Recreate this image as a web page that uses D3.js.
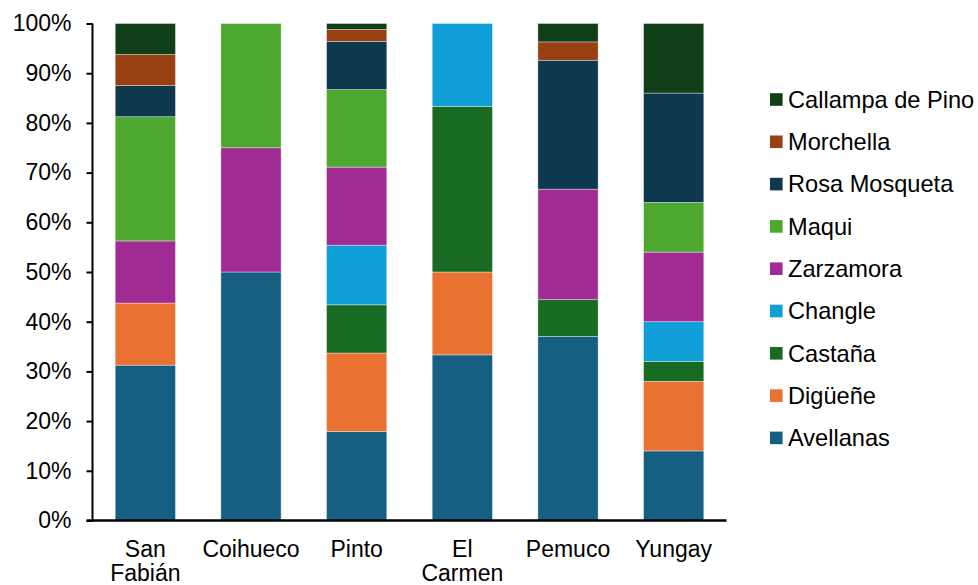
<!DOCTYPE html>
<html>
<head>
<meta charset="utf-8">
<script src="https://cdn.jsdelivr.net/npm/d3@7"></script>
<style>
  html, body { margin: 0; padding: 0; background: #fff; }
  svg { display: block; font-family: "Liberation Sans", Arial, sans-serif; }
</style>
</head>
<body>
<svg id="chart" width="978" height="585"></svg>
<script>
const categories = ["San Fabián", "Coihueco", "Pinto", "El Carmen", "Pemuco", "Yungay"];
const categoryLines = [["San", "Fabián"], ["Coihueco"], ["Pinto"], ["El", "Carmen"], ["Pemuco"], ["Yungay"]];
const seriesNames = ["Avellanas", "Digüeñe", "Castaña", "Changle", "Zarzamora", "Maqui", "Rosa Mosqueta", "Morchella", "Callampa de Pino"];
const seriesColors = ["#156082", "#e97132", "#196b24", "#0f9ed5", "#a02b93", "#4ea72e", "#0e384e", "#984012", "#113f17"];
// percentage values per series, in category order
const avellanas     = [31.25, 50, 17.9, 33.33, 37.04, 14];
const diguene       = [12.5,  0,  15.8, 16.67, 0,     14];
const castana       = [0,     0,  9.7,  33.33, 7.41,  4];
const changle       = [0,     0,  12.0, 16.67, 0,     8];
const zarzamora     = [12.5,  25, 15.7, 0,     22.22, 14];
const maqui         = [25,    25, 15.6, 0,     0,     10];
const rosaMosqueta  = [6.25,  0,  9.7,  0,     25.93, 22];
const morchella     = [6.25,  0,  2.4,  0,     3.70,  0];
const callampa      = [6.25,  0,  1.2,  0,     3.70,  14];
const yTicks = [0, 10, 20, 30, 40, 50, 60, 70, 80, 90, 100];
const yTickLabels = ["0%", "10%", "20%", "30%", "40%", "50%", "60%", "70%", "80%", "90%", "100%"];

const seriesValues = [avellanas, diguene, castana, changle, zarzamora, maqui, rosaMosqueta, morchella, callampa];

const rows = categories.map((c, i) => {
  const r = { cat: c };
  seriesNames.forEach((s, j) => r[s] = seriesValues[j][i]);
  return r;
});

const svg = d3.select("#chart");
const mLeft = 92.5, mRight = 726.5, mTop = 23.5, mBottom = 520.5;

const x = d3.scaleBand().domain(categories).range([mLeft, mRight]).paddingInner(0.43).paddingOuter(0.215);
const y = d3.scaleLinear().domain([0, 100]).range([mBottom, mTop]);

const stack = d3.stack().keys(seriesNames);
const stacked = stack(rows);

const color = d3.scaleOrdinal().domain(seriesNames).range(seriesColors);

svg.append("g").selectAll("g").data(stacked).join("g")
  .attr("fill", d => color(d.key))
  .selectAll("rect").data(d => d).join("rect")
  .attr("x", d => x(d.data.cat))
  .attr("width", x.bandwidth())
  .attr("y", d => y(d[1]))
  .attr("height", d => Math.max(0, y(d[0]) - y(d[1])))
  .attr("stroke", "#ffffff")
  .attr("stroke-opacity", d => (d[1] - d[0]) > 0 ? 0.45 : 0)
  .attr("stroke-width", 0.8);

// y axis
const yAxis = d3.axisLeft(y).tickValues(yTicks).tickFormat((d, i) => yTickLabels[i]).tickSize(6).tickPadding(15);
const yg = svg.append("g").attr("transform", `translate(${mLeft},0)`).call(yAxis);
yg.select(".domain").attr("stroke", "#000").attr("stroke-width", 2).attr("d", `M0,${mTop}V${mBottom}`);
yg.selectAll(".tick line").attr("stroke", "#000").attr("stroke-width", 2);
yg.selectAll(".tick text").attr("font-size", 23).attr("fill", "#000")
  .attr("font-family", "Liberation Sans, Arial, sans-serif");

// x axis
const xAxis = d3.axisBottom(x).tickSize(0).tickFormat("");
const xg = svg.append("g").attr("transform", `translate(0,${mBottom})`).call(xAxis);
xg.select(".domain").attr("stroke", "#000").attr("stroke-width", 2.4).attr("d", `M${mLeft - 6},0H${mRight}`);
xg.selectAll(".tick").each(function(d, i) {
  const t = d3.select(this).append("text")
    .attr("fill", "#000").attr("font-size", 23).attr("text-anchor", "middle")
    .attr("font-family", "Liberation Sans, Arial, sans-serif");
  categoryLines[i].forEach((line, k) => {
    t.append("tspan").attr("x", 0).attr("y", 36 + k * 24.3).text(line);
  });
});

// legend
const legendOrder = seriesNames.slice().reverse();
const lg = svg.append("g");
legendOrder.forEach((name, i) => {
  const cy = 99.5 + i * 42.3;
  lg.append("rect").attr("x", 770).attr("y", cy - 6.3).attr("width", 12.6).attr("height", 12.6).attr("fill", color(name));
  lg.append("text").attr("x", 788).attr("y", cy).attr("dy", "0.35em")
    .attr("font-size", 23.6).attr("fill", "#000").text(name);
});
</script>
</body>
</html>
